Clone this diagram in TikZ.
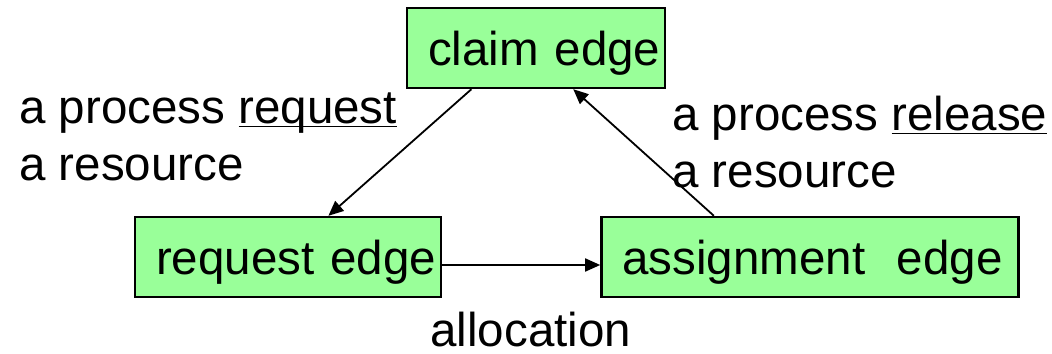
\documentclass[tikz,border=0pt]{standalone}
\usepackage{fontspec}
\setmainfont{Liberation Sans}
\usetikzlibrary{arrows.meta,positioning,calc}
\definecolor{boxgreen}{HTML}{99FF99}

\begin{document}
\begin{tikzpicture}[x=1pt, y=1pt, every node/.style={font=\fontsize{23.75}{28.75}\selectfont},
  edgebox/.style={draw, line width=1.2pt, fill=boxgreen, align=left, inner xsep=0pt,
    minimum height=40pt, text height=20pt, text depth=2pt,
    execute at begin node={\hspace*{10.5pt}}},
  link/.style={-{Triangle[length=7.5pt,width=6.5pt]}, line width=0.9pt}]
  \useasboundingbox (0,0) rectangle (526,176.5);
  % the three kinds of edges
  \node[edgebox, text width=129pt] (claim) at (268,152.5) {claim edge};
  \node[edgebox, text width=153pt] (request) at (144,48) {request edge};
  \node[edgebox, text width=208.5pt, right=79pt of request] (assign) {assignment~~edge};
  % transitions between them
  \draw[link] ($(claim.south west)!.252!(claim.south east)$) -- ($(request.north west)!.631!(request.north east)$);
  \draw[link] ([yshift=-4pt]request.east) -- ([yshift=-4pt]assign.west);
  \draw[link] ($(assign.north west)!.271!(assign.north east)$) -- ($(claim.south west)!.643!(claim.south east)$);
  % labels (base = last line)
  \node[align=left, anchor=base west, inner sep=0pt] (reqlabel) at (9.5,86) {a process \underline{\smash{request}}\\a resource};
  \node[align=left, anchor=base west, inner sep=0pt] (rellabel) at (336,82.5) {a process \underline{\smash{release}}\\a resource};
  \node[anchor=base west, inner sep=0pt] (alloclabel) at (215,3.5) {allocation};
\end{tikzpicture}
\end{document}
